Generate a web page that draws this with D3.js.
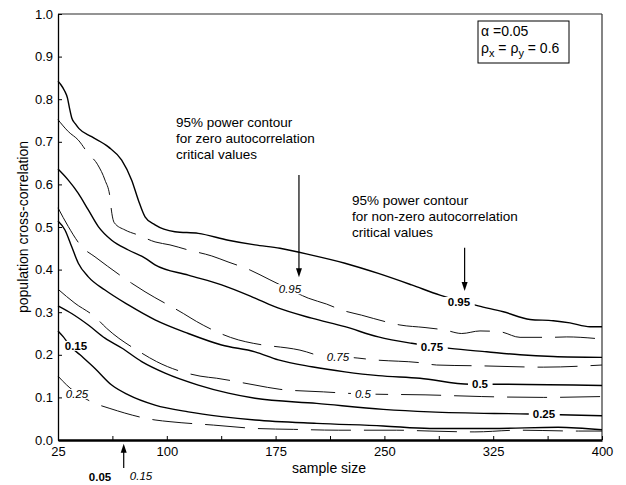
<!DOCTYPE html>
<html><head><meta charset="utf-8">
<script src="https://cdn.jsdelivr.net/npm/d3@7"></script>
<style>
body{margin:0;background:#fff}
svg{display:block}
text{font-family:"Liberation Sans",Arial,Helvetica,sans-serif;fill:#000}
</style>
</head><body>
<svg id="c" width="626" height="485"></svg>
<script>
// ---- data (sample size, population cross-correlation) ----
const xTickValues = [25, 62.5, 100, 137.5, 175, 212.5, 250, 287.5, 325, 362.5, 400];
const xTickLabels = ["25", "", "100", "", "175", "", "250", "", "325", "", "400"];
const yTickValues = [0, 0.1, 0.2, 0.3, 0.4, 0.5, 0.6, 0.7, 0.8, 0.9, 1.0];
const yTickLabels = ["0.0","0.1","0.2","0.3","0.4","0.5","0.6","0.7","0.8","0.9","1.0"];

// solid = non-zero autocorrelation critical values
const solid95 = [[25,0.842],[27,0.834],[29.5,0.820],[31.5,0.803],[33,0.778],[34.5,0.756],[37,0.742],[39.5,0.731],[48.2,0.712],[59.7,0.688],[68.9,0.657],[75.8,0.610],[80.4,0.563],[85,0.524],[91.9,0.505],[105.6,0.489],[121.7,0.485],[142.4,0.469],[160.8,0.458],[178,0.450],[199.9,0.434],[222.8,0.415],[245.8,0.391],[268.8,0.364],[288.3,0.340],[314.7,0.315],[332,0.301],[350.4,0.283],[366.4,0.280],[377.9,0.275],[391.7,0.266],[400,0.266]];
const solid75 = [[25,0.636],[32.1,0.610],[39,0.579],[45.9,0.540],[52.8,0.501],[62,0.469],[73.5,0.446],[85,0.427],[91.9,0.411],[114.8,0.387],[137.8,0.364],[160.8,0.333],[176.6,0.310],[199.9,0.286],[222.8,0.266],[245.8,0.242],[268.8,0.227],[295.2,0.215],[320.5,0.207],[343.5,0.200],[366.4,0.196],[400,0.194]];
const solid50 = [[25,0.514],[29.8,0.493],[34.4,0.454],[39,0.415],[45.9,0.383],[57.4,0.352],[73.5,0.317],[91.9,0.282],[114.8,0.250],[137.8,0.223],[160.8,0.207],[176.9,0.188],[199.9,0.172],[222.8,0.160],[245.8,0.151],[274.5,0.145],[309,0.131],[327.4,0.131],[400,0.128]];
const solid25 = [[25,0.315],[34.4,0.297],[45.9,0.270],[57.4,0.239],[68.9,0.216],[82.7,0.184],[98.8,0.157],[121.7,0.129],[142.4,0.110],[160.8,0.098],[203.3,0.086],[249.2,0.072],[281.4,0.066],[349.2,0.061],[400,0.057]];
const solid15 = [[25,0.256],[28.7,0.242],[33,0.222],[40.2,0.200],[50.5,0.168],[62,0.129],[73.5,0.106],[91.9,0.082],[114.8,0.066],[137.8,0.055],[160.8,0.047],[203.3,0.039],[249.2,0.033],[281.4,0.027],[323.9,0.027],[369.8,0.030],[400,0.024]];

// dashed = zero autocorrelation critical values
const dashed95 = [[25,0.752],[32.1,0.724],[39,0.704],[45.5,0.674],[52.4,0.646],[57.4,0.610],[60.8,0.571],[61.5,0.548],[63.8,0.510],[71.2,0.493],[80.4,0.481],[91.9,0.465],[102.2,0.458],[114.8,0.446],[131,0.432],[142.2,0.418],[157.4,0.399],[171.1,0.376],[184.9,0.353],[197.5,0.333],[210.2,0.319],[220.6,0.305],[234.3,0.293],[250.4,0.278],[260.7,0.270],[278,0.264],[291.8,0.258],[303.3,0.250],[315.9,0.256],[329.7,0.254],[343.5,0.241],[364.2,0.241],[375.7,0.242],[400,0.237]];
const dashed75 = [[25,0.545],[32.1,0.501],[41.3,0.454],[50.5,0.430],[75.8,0.368],[85,0.348],[111.4,0.297],[120.6,0.278],[149.3,0.235],[159.6,0.227],[191.8,0.211],[209,0.196],[226.3,0.194],[243.5,0.188],[275.7,0.181],[286,0.176],[317.1,0.174],[359.5,0.171],[400,0.176]];
const dashed50 = [[25,0.354],[36.7,0.321],[50.5,0.289],[58.6,0.262],[82.7,0.204],[93,0.184],[122.9,0.150],[134.4,0.145],[160.8,0.129],[178,0.119],[207.9,0.113],[235.2,0.108],[278,0.106],[317.1,0.102],[359.5,0.100],[400,0.102]];
const dashed25 = [[25,0.150],[31,0.129],[40,0.105],[50.5,0.086],[60.8,0.074],[91.9,0.047],[102.2,0.043],[132.1,0.035],[162,0.027],[187.2,0.025],[218.2,0.023],[258.5,0.023],[281.4,0.021],[312.4,0.019],[342.3,0.023],[383.7,0.021],[400,0.021]];

// contour labels: [sample size, correlation, text]
const solidLabels = [[301.4,0.324,"0.95"],[282.8,0.218,"0.75"],[315.9,0.131,"0.5"],[360,0.061,"0.25"],[37.4,0.221,"0.15"]];
const dashedLabels = [[184.9,0.354,"0.95"],[218,0.195,"0.75"],[235.2,0.108,"0.5"],[38.1,0.108,"0.25"]];

// ---- drawing ----
const svg = d3.select("#c");
svg.append("rect").attr("width",626).attr("height",485).attr("fill","#fff");

const x = d3.scaleLinear().domain([25,400]).range([58,602]);
const y = d3.scaleLinear().domain([0,1]).range([440,14]);

// frame (top/right)
svg.append("line").attr("x1",x(25)).attr("x2",x(400)).attr("y1",y(1)).attr("y2",y(1))
  .attr("stroke","#707070").attr("stroke-width",1.6);
svg.append("line").attr("x1",x(400)).attr("x2",x(400)).attr("y1",y(1)).attr("y2",y(0))
  .attr("stroke","#333").attr("stroke-width",1.2);

const line = d3.line().x(d=>x(d[0])).y(d=>y(d[1])).curve(d3.curveMonotoneX);

const curves = svg.append("g").attr("fill","none").attr("stroke","#000");
[solid95, solid75, solid50, solid25, solid15].forEach(s => {
  curves.append("path").attr("d", line(s)).attr("stroke-width", 1.4);
});
[dashed95, dashed75, dashed50, dashed25].forEach(s => {
  curves.append("path").attr("d", line(s)).attr("stroke-width", 1.0)
    .attr("stroke-dasharray","40,13").attr("stroke","#111");
});

function addLabel(d, bold) {
  const g = svg.append("g");
  const t = g.append("text").attr("x", x(d[0])).attr("y", y(d[1]))
    .attr("text-anchor","middle").attr("dominant-baseline","central")
    .style("font-size","11.5px")
    .style("font-weight", bold ? "bold" : "normal")
    .style("font-style", bold ? "normal" : "italic")
    .text(d[2]);
  const bb = t.node().getBBox();
  g.insert("rect","text").attr("x",bb.x-4).attr("y",bb.y+1).attr("width",bb.width+8)
    .attr("height",bb.height-2).attr("fill","#fff");
}
solidLabels.forEach(d => addLabel(d, true));
dashedLabels.forEach(d => addLabel(d, false));

// axes
const yAxis = d3.axisLeft(y).tickValues(yTickValues).tickFormat((d,i)=>yTickLabels[i])
  .tickSizeInner(-4).tickSizeOuter(0).tickPadding(5);
const gy = svg.append("g").attr("transform",`translate(${x(25)},0)`).call(yAxis);
gy.select(".domain").attr("stroke","#000").attr("stroke-width",1.3);
gy.selectAll(".tick line").attr("stroke","#000");
gy.selectAll("text").style("font-size","13px").attr("fill","#000");

const xAxis = d3.axisBottom(x).tickValues(xTickValues).tickFormat((d,i)=>xTickLabels[i])
  .tickSizeInner(-4).tickSizeOuter(0).tickPadding(7);
const gx = svg.append("g").attr("transform",`translate(0,${y(0)})`).call(xAxis);
gx.select(".domain").attr("stroke","#000").attr("stroke-width",2.6);
gx.selectAll(".tick line").attr("stroke","#000");
gx.selectAll("text").style("font-size","13px").attr("fill","#000");

// axis titles
svg.append("text").attr("transform","translate(28,227) rotate(-90)").attr("text-anchor","middle")
  .style("font-size","14px").text("population cross-correlation");
svg.append("text").attr("x",329).attr("y",473).attr("text-anchor","middle")
  .style("font-size","14px").text("sample size");

// annotations
function annot(x0, y0, lines) {
  const t = svg.append("text").style("font-size","13.5px");
  lines.forEach((l,i)=>t.append("tspan").attr("x",x0).attr("y",y0+i*16).text(l));
}
annot(176,127,["95% power contour","for zero autocorrelation","critical values"]);
annot(352,205,["95% power contour","for non-zero autocorrelation","critical values"]);

function arrow(n, r0, r1) {
  const xp = x(n), y0 = y(r0), y1 = y(r1);
  const dir = Math.sign(y1 - y0);
  svg.append("line").attr("x1",xp).attr("x2",xp).attr("y1",y0).attr("y2",y1 - dir*6)
    .attr("stroke","#000").attr("stroke-width",1.2);
  svg.append("path").attr("d",`M${xp},${y1}L${xp-3},${y1-dir*9}L${xp+3},${y1-dir*9}Z`).attr("fill","#000");
}
arrow(191.1, 0.622, 0.382);
arrow(305.3, 0.451, 0.350);
arrow(70.3, -0.066, -0.009);

svg.append("text").attr("x",100).attr("y",481).attr("text-anchor","middle")
  .style("font-size","11.5px").style("font-weight","bold").text("0.05");
svg.append("text").attr("x",141).attr("y",480).attr("text-anchor","middle")
  .style("font-size","11.5px").style("font-style","italic").text("0.15");

// legend box
svg.append("rect").attr("x",478).attr("y",21).attr("width",91).attr("height",42)
  .attr("fill","#fff").attr("stroke","#000").attr("stroke-width",1);
const l1 = svg.append("text").attr("x",481).attr("y",36).style("font-size","14px");
l1.append("tspan").text("α =0.05");
const l2 = svg.append("text").attr("x",481).attr("y",53).style("font-size","14px");
l2.append("tspan").text("ρ");
l2.append("tspan").attr("dy",4).style("font-size","11px").text("x");
l2.append("tspan").attr("dy",-4).text(" = ρ");
l2.append("tspan").attr("dy",4).style("font-size","11px").text("y");
l2.append("tspan").attr("dy",-4).text(" = 0.6");
</script>
</body></html>
